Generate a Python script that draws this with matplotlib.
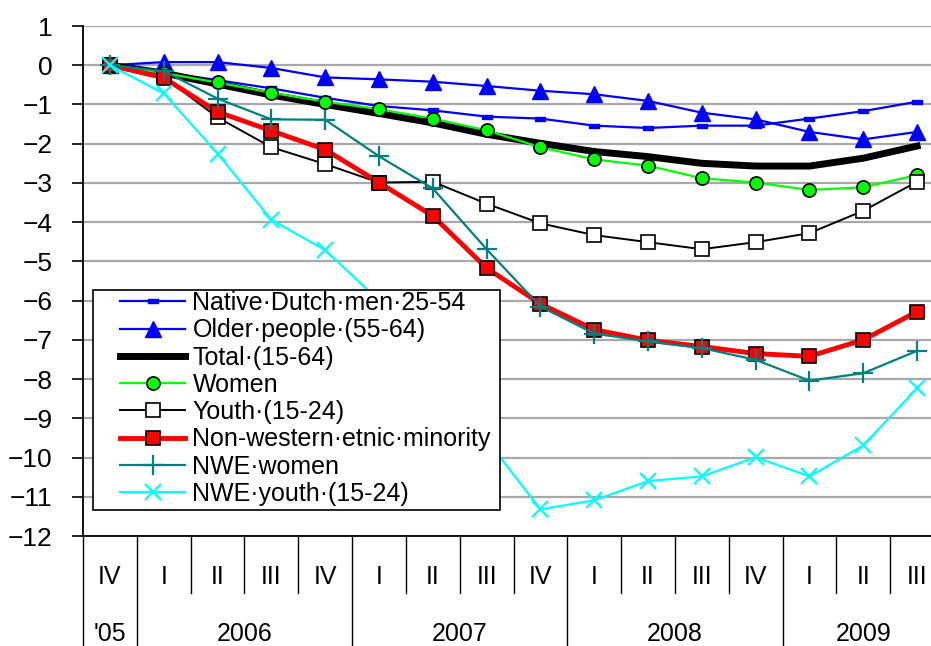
import numpy as np
import matplotlib
matplotlib.use('Agg')
import matplotlib.pyplot as plt
from matplotlib.path import Path
from matplotlib.patches import Rectangle

plt.rcParams['font.family'] = ['Liberation Sans', 'DejaVu Sans']

quarters = ['IV', 'I', 'II', 'III', 'IV', 'I', 'II', 'III', 'IV',
            'I', 'II', 'III', 'IV', 'I', 'II', 'III']
years = ["'05", '2006', '2007', '2008', '2009']
year_start = [0, 1, 5, 9, 13]   # first quarter index of each year
year_len = [1, 4, 4, 4, 3]

native_men = [0, -0.18, -0.38, -0.59, -0.83, -1.04, -1.15, -1.31, -1.36, -1.54, -1.60, -1.54, -1.54, -1.36, -1.17, -0.93]
older = [0, 0.08, 0.08, -0.07, -0.31, -0.36, -0.42, -0.53, -0.65, -0.74, -0.91, -1.21, -1.38, -1.70, -1.89, -1.70]
total = [0, -0.2, -0.48, -0.76, -1.0, -1.23, -1.47, -1.76, -1.99, -2.2, -2.33, -2.5, -2.57, -2.57, -2.37, -2.06]
women = [0, -0.2, -0.44, -0.70, -0.93, -1.12, -1.36, -1.66, -2.09, -2.40, -2.56, -2.88, -2.99, -3.18, -3.11, -2.80]
youth = [0, -0.3, -1.33, -2.09, -2.52, -2.99, -2.97, -3.53, -4.03, -4.33, -4.51, -4.69, -4.51, -4.28, -3.71, -2.97]
non_western = [0, -0.32, -1.19, -1.67, -2.15, -2.99, -3.84, -5.17, -6.08, -6.74, -7.01, -7.17, -7.35, -7.42, -7.0, -6.28]
nwe_women = [0, -0.15, -0.85, -1.38, -1.39, -2.32, -3.14, -4.69, -6.15, -6.84, -7.04, -7.21, -7.51, -8.04, -7.85, -7.28]
nwe_youth = [0, -0.72, -2.25, -3.94, -4.71, -6.0, -7.8, -9.55, -11.32, -11.09, -10.60, -10.48, -9.99, -10.48, -9.69, -8.23]

labels = ['Native·Dutch·men·25-54', 'Older·people·(55-64)', 'Total·(15-64)', 'Women',
          'Youth·(15-24)', 'Non-western·etnic·minority', 'NWE·women', 'NWE·youth·(15-24)']

# small flat bar marker for the native dutch series
dash = Path([(-1, -0.4), (1, -0.4), (1, 0.4), (-1, 0.4), (-1, -0.4)],
            [Path.MOVETO, Path.LINETO, Path.LINETO, Path.LINETO, Path.CLOSEPOLY])

fig = plt.figure(figsize=(9.31, 6.46), dpi=100)
ax = fig.add_axes([83 / 931, 1 - 536 / 646, 861 / 931, 510 / 646])

x = np.arange(len(quarters))

ax.plot(x, native_men, color='#0000ff', lw=1.6, marker=dash, ms=7, label=labels[0])
ax.plot(x, older, color='#0000ff', lw=1.6, marker='^', ms=11, label=labels[1])
ax.plot(x, total, color='black', lw=5, label=labels[2])
ax.plot(x, women, color='#00ff00', lw=1.6, marker='o', ms=9.5, mfc='#00ff00', mec='black', mew=1.2, label=labels[3])
ax.plot(x, youth, color='black', lw=1.4, marker='s', ms=9.5, mfc='white', mec='black', mew=1.2, label=labels[4])
ax.plot(x, non_western, color='#ff0000', lw=3.5, marker='s', ms=9.5, mfc='#ff0000', mec='black', mew=1.2, label=labels[5])
ax.plot(x, nwe_women, color='#008080', lw=1.6, marker='+', ms=14, mew=1.6, label=labels[6])
ax.plot(x, nwe_youth, color='#00ffff', lw=1.6, marker='x', ms=12, mew=1.6, label=labels[7])

ax.set_xlim(-0.5, len(quarters) - 0.5)
ax.set_ylim(-12, 1)
ax.set_yticks(np.arange(-12, 2, 1))
ax.yaxis.grid(True, color='#a8a8a8', lw=1.6)
ax.set_axisbelow(True)
ax.tick_params(axis='y', direction='out', length=8, width=1.2, pad=14, labelsize=19)
ax.set_xticks([])
for s in ['top', 'right']:
    ax.spines[s].set_visible(False)
ax.spines['left'].set_linewidth(1.3)
ax.spines['bottom'].set_linewidth(1.3)

# category table under the axis
tr = ax.get_xaxis_transform()
q_bottom = -(593 - 536) / 510
y_bottom = -(646 - 536) / 510
for i in range(len(quarters)):
    ax.text(i, -(577 - 536) / 510, quarters[i], transform=tr, ha='center', va='center', fontsize=18)
    if i > 0 and i not in year_start:
        ax.plot([i - 0.5, i - 0.5], [0, q_bottom], transform=tr, color='black', lw=1, clip_on=False)
for yr, st, ln in zip(years, year_start, year_len):
    ax.plot([st - 0.5, st - 0.5], [0, y_bottom], transform=tr, color='black', lw=1, clip_on=False)
    ax.text(st + (ln - 1) / 2, -(634 - 536) / 510, yr, transform=tr, ha='center', va='center', fontsize=18)

# legend box drawn separately to get the wide left margin of the original
box = Rectangle((93 / 931, 1 - 510 / 646), (500 - 93) / 931, (510 - 290) / 646,
                transform=fig.transFigure, facecolor='white', edgecolor='black',
                lw=1.2, zorder=4.5, clip_on=False)
ax.add_patch(box)
leg = ax.legend(loc='upper left', bbox_to_anchor=(120 / 931, 1 - 291 / 646),
                bbox_transform=fig.transFigure, fontsize=18, frameon=False,
                borderpad=0.0, labelspacing=0.13,
                handlelength=2.6, handletextpad=0.3, borderaxespad=0)

fig.savefig('out.png', dpi=100)
